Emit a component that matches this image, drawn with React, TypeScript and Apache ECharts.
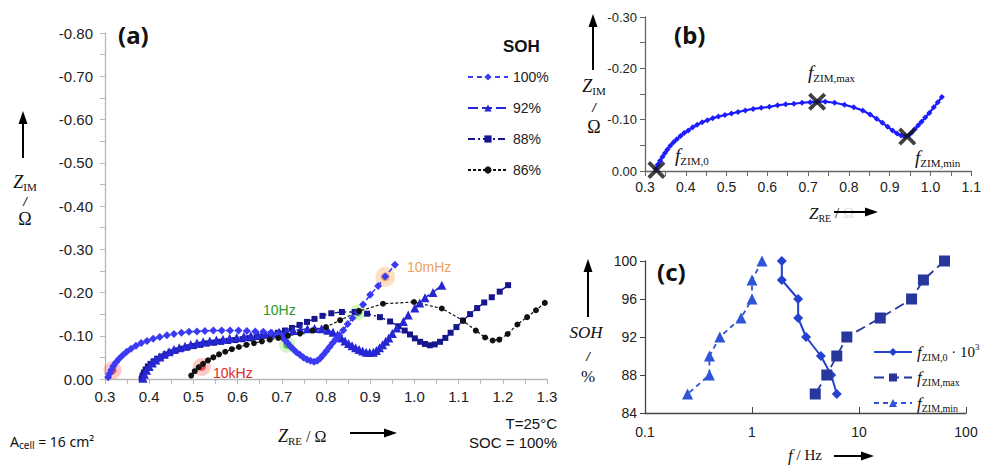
import React, { useEffect, useRef } from "react";
import * as echarts from "echarts";

// ---------- Panel (a): Nyquist plots, points are [Z_RE (Ω), -Z_IM (Ω)] ----------
const soh100 = [
  [0.307, 0.004], [0.31, 0.012], [0.314, 0.021], [0.319, 0.03], [0.325, 0.039], [0.332, 0.047],
  [0.34, 0.055], [0.349, 0.063], [0.359, 0.07], [0.37, 0.077], [0.382, 0.083], [0.395, 0.088],
  [0.409, 0.093], [0.424, 0.097], [0.44, 0.101], [0.456, 0.104], [0.473, 0.107], [0.49, 0.109],
  [0.508, 0.11], [0.526, 0.111], [0.545, 0.112], [0.564, 0.112], [0.583, 0.112], [0.602, 0.112],
  [0.621, 0.111], [0.64, 0.11], [0.658, 0.109], [0.675, 0.107], [0.69, 0.103], [0.7, 0.097],
  [0.707, 0.09], [0.713, 0.083], [0.719, 0.076], [0.726, 0.069], [0.733, 0.062], [0.741, 0.056],
  [0.749, 0.05], [0.757, 0.045], [0.765, 0.042], [0.773, 0.04], [0.78, 0.042], [0.787, 0.048],
  [0.794, 0.056], [0.801, 0.065], [0.808, 0.074], [0.815, 0.083], [0.822, 0.092], [0.83, 0.101],
  [0.839, 0.113], [0.849, 0.127], [0.86, 0.141], [0.872, 0.155], [0.884, 0.172], [0.9, 0.195],
  [0.918, 0.215], [0.934, 0.237], [0.956, 0.264],
];
const soh92 = [
  [0.386, 0.002], [0.389, 0.011], [0.394, 0.02], [0.4, 0.029], [0.407, 0.037], [0.415, 0.044],
  [0.424, 0.051], [0.434, 0.057], [0.445, 0.063], [0.456, 0.068], [0.468, 0.072], [0.481, 0.076],
  [0.494, 0.08], [0.508, 0.083], [0.522, 0.086], [0.537, 0.088], [0.552, 0.09], [0.567, 0.092],
  [0.582, 0.094], [0.598, 0.096], [0.614, 0.098], [0.63, 0.1], [0.646, 0.102], [0.662, 0.104],
  [0.678, 0.106], [0.694, 0.108], [0.71, 0.11], [0.726, 0.112], [0.742, 0.114], [0.758, 0.116],
  [0.774, 0.117], [0.79, 0.116], [0.804, 0.113], [0.816, 0.108], [0.826, 0.102], [0.835, 0.095],
  [0.843, 0.088], [0.851, 0.082], [0.859, 0.077], [0.867, 0.072], [0.875, 0.068], [0.883, 0.065],
  [0.891, 0.062], [0.899, 0.061], [0.907, 0.062], [0.914, 0.066], [0.921, 0.072], [0.928, 0.079],
  [0.935, 0.087], [0.942, 0.095], [0.95, 0.105], [0.96, 0.118], [0.975, 0.133], [0.986, 0.148],
  [1.001, 0.164], [1.012, 0.176], [1.024, 0.188], [1.042, 0.2], [1.062, 0.217],
];
const soh88 = [
  [0.383, 0.001], [0.385, 0.008], [0.388, 0.015], [0.392, 0.022], [0.397, 0.029], [0.403, 0.035],
  [0.41, 0.041], [0.418, 0.047], [0.427, 0.052], [0.437, 0.057], [0.448, 0.062], [0.46, 0.066],
  [0.473, 0.07], [0.487, 0.073], [0.501, 0.076], [0.516, 0.079], [0.531, 0.082], [0.547, 0.084],
  [0.563, 0.086], [0.579, 0.088], [0.595, 0.09], [0.611, 0.092], [0.627, 0.094], [0.643, 0.097],
  [0.659, 0.1], [0.675, 0.103], [0.691, 0.107], [0.707, 0.112], [0.723, 0.118], [0.74, 0.125],
  [0.757, 0.132], [0.774, 0.139], [0.792, 0.146], [0.812, 0.152], [0.836, 0.155], [0.865, 0.155],
  [0.893, 0.151], [0.922, 0.143], [0.945, 0.133], [0.964, 0.122], [0.978, 0.112], [0.99, 0.103],
  [1.001, 0.094], [1.013, 0.086], [1.024, 0.081], [1.035, 0.078], [1.046, 0.08], [1.058, 0.086],
  [1.07, 0.095], [1.082, 0.107], [1.095, 0.12], [1.11, 0.135], [1.126, 0.15], [1.142, 0.164],
  [1.158, 0.177], [1.175, 0.189], [1.193, 0.202], [1.212, 0.217],
];
const soh86 = [
  [0.495, 0.008], [0.503, 0.018], [0.512, 0.027], [0.522, 0.035], [0.533, 0.043], [0.545, 0.05],
  [0.558, 0.057], [0.572, 0.063], [0.587, 0.069], [0.603, 0.074], [0.62, 0.079], [0.637, 0.083],
  [0.655, 0.087], [0.673, 0.091], [0.692, 0.095], [0.714, 0.1], [0.741, 0.105], [0.77, 0.112],
  [0.8, 0.12], [0.832, 0.136], [0.875, 0.157], [0.929, 0.174], [0.999, 0.178], [1.062, 0.163],
  [1.11, 0.135], [1.139, 0.112], [1.16, 0.096], [1.177, 0.089], [1.192, 0.091], [1.211, 0.104],
  [1.233, 0.126], [1.255, 0.143], [1.275, 0.159], [1.295, 0.176],
];
const sohNames = ["100%", "92%", "88%", "86%"];
// frequency highlights in panel (a)
const mark10kHz = [[0.317, 0.02], [0.519, 0.028]];
const mark10Hz = [[0.712, 0.079], [0.872, 0.154]];
const mark10mHz = [[0.934, 0.236]];

// ---------- Panel (b): single Nyquist curve, [Z_RE, -Z_IM] ----------
const curveB = [
  [0.327, 0.004], [0.331, 0.012], [0.337, 0.02], [0.343, 0.028], [0.349, 0.035], [0.355, 0.042],
  [0.362, 0.049], [0.37, 0.056], [0.378, 0.062], [0.387, 0.068], [0.396, 0.074], [0.406, 0.079],
  [0.417, 0.085], [0.428, 0.09], [0.44, 0.095], [0.453, 0.099], [0.466, 0.103], [0.48, 0.106],
  [0.496, 0.109], [0.512, 0.112], [0.528, 0.115], [0.546, 0.118], [0.565, 0.121], [0.585, 0.123],
  [0.605, 0.125], [0.625, 0.128], [0.645, 0.13], [0.665, 0.131], [0.685, 0.133], [0.705, 0.134],
  [0.722, 0.135], [0.742, 0.135], [0.765, 0.133], [0.789, 0.129], [0.812, 0.124], [0.834, 0.118],
  [0.852, 0.11], [0.868, 0.102], [0.882, 0.094], [0.895, 0.086], [0.907, 0.079], [0.918, 0.073],
  [0.928, 0.069], [0.937, 0.067], [0.946, 0.069], [0.954, 0.075], [0.962, 0.082], [0.97, 0.089],
  [0.978, 0.096], [0.987, 0.104], [0.997, 0.113], [1.008, 0.124], [1.018, 0.134], [1.028, 0.144],
];
const markersB = [[0.328, 0.002], [0.722, 0.135], [0.943, 0.067]];

// ---------- Panel (c): characteristic frequencies vs SOH ----------
const sohLevels = [100, 98, 96, 94, 92, 90, 88, 86];
const fZim0x1000 = [1.9, 1.9, 2.7, 2.7, 3.2, 4.4, 5.5, 6.2];
const fZimMax = [63, 40, 31, 15.8, 7.7, 6.2, 5.0, 3.9];
const fZimMin = [1.24, 1.0, 1.0, 0.79, 0.5, 0.4, 0.4, 0.25];

const SERIF = "'Liberation Serif', 'DejaVu Serif', serif";
const SANS = "'Liberation Sans', Arial, sans-serif";
const NOTO = "'Noto Sans', 'Open Sans', sans-serif";

const neg = (pts: number[][]) => pts.map(([x, y]) => [x, -y]);

const richSub = (main: number, sub: number, col = "#111") => ({
  m: { fontFamily: SERIF, fontStyle: "italic", fontSize: main, lineHeight: main + 3, fill: col, color: col },
  s: { fontFamily: SERIF, fontSize: sub, verticalAlign: "bottom", lineHeight: sub + 1, fill: col, color: col },
  n: { fontFamily: SERIF, fontSize: main - 2, fill: col, color: col },
  g: { fontFamily: SERIF, fontSize: main - 2, fill: "#dcdcdc", color: "#dcdcdc" },
  p: { fontFamily: SERIF, fontSize: sub - 1, verticalAlign: "top", lineHeight: sub, fill: col, color: col },
});

const txt = (x: number, y: number, text: string, extra: any = {}) => ({
  type: "text",
  x,
  y,
  silent: true,
  style: {
    text,
    fill: "#111",
    fontFamily: SANS,
    fontSize: 14,
    align: "left",
    verticalAlign: "middle",
    ...extra,
  },
});

const arrowUp = (x: number, yBottom: number, yTop: number) => [
  { type: "line", silent: true, shape: { x1: x, y1: yBottom, x2: x, y2: yTop + 10 }, style: { stroke: "#000", lineWidth: 2 } },
  { type: "polygon", silent: true, shape: { points: [[x - 4.5, yTop + 13], [x + 4.5, yTop + 13], [x, yTop]] }, style: { fill: "#000" } },
];
const arrowRight = (xLeft: number, xRight: number, y: number) => [
  { type: "line", silent: true, shape: { x1: xLeft, y1: y, x2: xRight - 10, y2: y }, style: { stroke: "#000", lineWidth: 2 } },
  { type: "polygon", silent: true, shape: { points: [[xRight - 13, y - 4.5], [xRight - 13, y + 4.5], [xRight, y]] }, style: { fill: "#000" } },
];

const axisCommon = (color: string, fontSize: number, margin: number) => ({
  axisLine: { show: true, onZero: false, lineStyle: { color, width: 1.3 } },
  axisTick: { show: true, length: 5, lineStyle: { color } },
  splitLine: { show: false },
  axisLabel: { fontSize, color: "#222", margin, fontFamily: SANS },
});

const zeroFix = (v: number, d: number) => (Math.abs(v) < 1e-9 ? (0).toFixed(d) : v.toFixed(d));

const C100 = "#3a3af2";
const C92 = "#2626d2";
const C88 = "#16168e";

const option: any = {
  animation: false,
  backgroundColor: "#ffffff",
  textStyle: { fontFamily: SANS },
  grid: [
    { left: 105, top: 33, width: 442, height: 346 },
    { left: 645, top: 17, width: 332, height: 154 },
    { left: 645, top: 261, width: 321, height: 152 },
  ],
  xAxis: [
    {
      gridIndex: 0, type: "value", min: 0.3, max: 1.3, interval: 0.1,
      ...axisCommon("#b8b8b8", 14, 10),
      minorTick: { show: true, splitNumber: 2, length: 5, lineStyle: { color: "#b8b8b8" } },
      axisLabel: { fontSize: 15, color: "#222", margin: 10, fontFamily: SANS, formatter: (v: number) => zeroFix(v, 1) },
    },
    {
      gridIndex: 1, type: "value", min: 0.3, max: 1.1, interval: 0.1,
      ...axisCommon("#666", 13, 9),
      minorTick: { show: true, splitNumber: 2, length: 5, lineStyle: { color: "#666" } },
      axisLabel: { fontSize: 14, color: "#222", margin: 9, fontFamily: SANS, formatter: (v: number) => zeroFix(v, 1) },
    },
    {
      gridIndex: 2, type: "log", logBase: 10, min: 0.1, max: 100,
      ...axisCommon("#444", 14, 12),
      axisTick: { show: true, inside: true, length: 6, lineStyle: { color: "#444" } },
      axisLabel: { fontSize: 14, color: "#222", margin: 12, fontFamily: SANS, formatter: (v: number) => (v < 1 ? v.toFixed(1) : String(Math.round(v))) },
    },
  ],
  yAxis: [
    {
      gridIndex: 0, type: "value", min: -0.8, max: 0, interval: 0.1, inverse: true,
      ...axisCommon("#b8b8b8", 15, 12),
      minorTick: { show: true, splitNumber: 2, length: 5, lineStyle: { color: "#b8b8b8" } },
      axisLabel: { fontSize: 15, color: "#222", margin: 12, fontFamily: SANS, formatter: (v: number) => zeroFix(v, 2) },
    },
    {
      gridIndex: 1, type: "value", min: -0.3, max: 0, interval: 0.1, inverse: true,
      ...axisCommon("#666", 13, 8),
      minorTick: { show: true, splitNumber: 2, length: 5, lineStyle: { color: "#666" } },
      axisLabel: { fontSize: 13, color: "#222", margin: 8, fontFamily: SANS, formatter: (v: number) => zeroFix(v, 2) },
    },
    {
      gridIndex: 2, type: "value", min: 84, max: 100, interval: 4,
      ...axisCommon("#444", 14, 8),
    },
  ],
  legend: [
    {
      data: sohNames, orient: "vertical", left: 462, top: 65, itemWidth: 40, itemHeight: 9, itemGap: 17,
      selectedMode: false, textStyle: { fontSize: 14, color: "#222", fontFamily: SANS },
    },
    {
      data: ["fZIM0", "fZIMmax", "fZIMmin"], orient: "vertical", left: 868, top: 337, itemWidth: 38, itemHeight: 10, itemGap: 7,
      selectedMode: false,
      formatter: (name: string) =>
        ({ fZIM0: "{m|f}{s|ZIM,0}{n| · 10}{p|3}", fZIMmax: "{m|f}{s|ZIM,max}", fZIMmin: "{m|f}{s|ZIM,min}" } as any)[name],
      textStyle: { rich: richSub(17, 10) },
    },
  ],
  series: [
    {
      name: "88%", type: "line", xAxisIndex: 0, yAxisIndex: 0, data: neg(soh88), silent: true,
      symbol: "rect", symbolSize: 6, itemStyle: { color: C88 },
      lineStyle: { color: C88, width: 1.4, type: [7, 3, 2, 3] },
    },
    {
      name: "92%", type: "line", xAxisIndex: 0, yAxisIndex: 0, data: neg(soh92), silent: true,
      symbol: "triangle", symbolSize: 9, itemStyle: { color: C92 },
      lineStyle: { color: C92, width: 1.6, type: [10, 4] },
    },
    {
      name: "100%", type: "line", xAxisIndex: 0, yAxisIndex: 0, data: neg(soh100), silent: true,
      symbol: "diamond", symbolSize: 8, itemStyle: { color: C100 },
      lineStyle: { color: C100, width: 1.5, type: [5, 4] },
    },
    {
      name: "86%", type: "line", xAxisIndex: 0, yAxisIndex: 0, data: neg(soh86), silent: true,
      symbol: "circle", symbolSize: 6, itemStyle: { color: "#111" },
      lineStyle: { color: "#111", width: 1.2, type: [3, 2] },
    },
    // glows
    { type: "scatter", xAxisIndex: 0, yAxisIndex: 0, data: neg(mark10kHz), silent: true, symbolSize: 18, itemStyle: { color: "rgba(255,60,60,0.35)" } },
    { type: "scatter", xAxisIndex: 0, yAxisIndex: 0, data: neg(mark10kHz), silent: true, symbolSize: 8, itemStyle: { color: "#ff2020" } },
    { type: "scatter", xAxisIndex: 0, yAxisIndex: 0, data: neg(mark10Hz), silent: true, symbolSize: 16, itemStyle: { color: "rgba(140,230,80,0.45)" } },
    { type: "scatter", xAxisIndex: 0, yAxisIndex: 0, data: neg(mark10Hz), silent: true, symbolSize: 8, itemStyle: { color: "#30b030" } },
    { type: "scatter", xAxisIndex: 0, yAxisIndex: 0, data: neg(mark10mHz), silent: true, symbolSize: 20, itemStyle: { color: "rgba(250,170,90,0.45)" } },
    { type: "scatter", xAxisIndex: 0, yAxisIndex: 0, data: neg(mark10mHz), silent: true, symbolSize: 9, itemStyle: { color: "#f5a060" } },
    // panel (b)
    {
      type: "line", xAxisIndex: 1, yAxisIndex: 1, data: neg(curveB), silent: true,
      symbol: "diamond", symbolSize: 6, itemStyle: { color: "#1c1cff" },
      lineStyle: { color: "#1c1cff", width: 2.2 },
    },
    {
      type: "scatter", xAxisIndex: 1, yAxisIndex: 1, data: neg(markersB), silent: true, z: 5,
      symbol: "path://M3,0 L10,7 L17,0 L20,3 L13,10 L20,17 L17,20 L10,13 L3,20 L0,17 L7,10 L0,3 Z",
      symbolSize: 18, itemStyle: { color: "#111" },
    },
    // panel (c)
    {
      name: "fZIM0", type: "line", xAxisIndex: 2, yAxisIndex: 2, silent: true,
      data: fZim0x1000.map((f, i) => [f, sohLevels[i]]),
      symbol: "diamond", symbolSize: 10, itemStyle: { color: "#2541d0" },
      lineStyle: { color: "#2541d0", width: 2 },
    },
    {
      name: "fZIMmax", type: "line", xAxisIndex: 2, yAxisIndex: 2, silent: true,
      data: fZimMax.map((f, i) => [f, sohLevels[i]]),
      symbol: "rect", symbolSize: 11, itemStyle: { color: "#27379c" },
      lineStyle: { color: "#27379c", width: 1.8, type: [10, 5] },
    },
    {
      name: "fZIMmin", type: "line", xAxisIndex: 2, yAxisIndex: 2, silent: true,
      data: fZimMin.map((f, i) => [f, sohLevels[i]]),
      symbol: "triangle", symbolSize: 11, itemStyle: { color: "#2f54d6" },
      lineStyle: { color: "#2f54d6", width: 1.8, type: [5, 4] },
    },
  ],
  graphic: [
    // panel (a)
    txt(118, 34, "(a)", { fontFamily: NOTO, fontWeight: "bold", fontSize: 24 }),
    txt(503, 46, "SOH", { fontWeight: "bold", fontSize: 17 }),
    ...arrowUp(23, 158, 111),
    txt(25, 182, "{m|Z}{s|IM}", { align: "center", rich: richSub(18, 11) }),
    txt(25, 201, "/", { align: "center", fontFamily: SANS, fontStyle: "italic", fontSize: 13 }),
    txt(25, 219, "Ω", { align: "center", fontFamily: SERIF, fontSize: 18 }),
    txt(278, 436, "{m|Z}{s|RE}{n| / Ω}", { rich: richSub(18, 11) }),
    ...arrowRight(350, 397, 433),
    txt(10, 441, "{a|A}{s|cell}{a| = 16 cm²}", {
      rich: {
        a: { fontFamily: NOTO, fontSize: 14, lineHeight: 18, fill: "#111" },
        s: { fontFamily: NOTO, fontSize: 10, verticalAlign: "bottom", lineHeight: 11, fill: "#111" },
      },
    }),
    txt(557, 423, "T=25°C", { align: "right", fontSize: 15 }),
    txt(557, 442, "SOC = 100%", { align: "right", fontSize: 15 }),
    txt(263, 310, "10Hz", { fill: "#2a9a2a", fontSize: 14 }),
    txt(213, 373, "10kHz", { fill: "#e02828", fontSize: 14 }),
    txt(407, 267, "10mHz", { fill: "#f0a060", fontSize: 14 }),
    // panel (b)
    txt(674, 34, "(b)", { fontFamily: NOTO, fontWeight: "bold", fontSize: 24 }),
    ...arrowUp(593, 70, 14),
    txt(594, 86, "{m|Z}{s|IM}", { align: "center", rich: richSub(18, 11) }),
    txt(594, 107, "/", { align: "center", fontFamily: SANS, fontStyle: "italic", fontSize: 13 }),
    txt(594, 127, "Ω", { align: "center", fontFamily: SERIF, fontSize: 18 }),
    txt(809, 213, "{m|Z}{s|RE}{n| /}{g| Ω}", { rich: richSub(17, 10) }),
    ...arrowRight(834, 878, 212),
    txt(675, 155, "{m|f}{s|ZIM,0}", { rich: richSub(19, 11) }),
    txt(808, 72, "{m|f}{s|ZIM,max}", { rich: richSub(19, 11) }),
    txt(915, 157, "{m|f}{s|ZIM,min}", { rich: richSub(19, 11) }),
    // panel (c)
    txt(657, 271, "(c)", { fontFamily: NOTO, fontWeight: "bold", fontSize: 24 }),
    ...arrowUp(588, 317, 259),
    txt(586, 332, "SOH", { align: "center", fontFamily: SERIF, fontStyle: "italic", fontSize: 17 }),
    txt(588, 356, "/", { align: "center", fontFamily: SANS, fontStyle: "italic", fontSize: 13 }),
    txt(588, 376, "%", { align: "center", fontFamily: SERIF, fontSize: 17 }),
    txt(788, 455, "{m|f}{n| / Hz}", { rich: richSub(17, 10) }),
    ...arrowRight(834, 874, 456),
  ],
};

export default function App() {
  const ref = useRef<HTMLDivElement>(null);
  useEffect(() => {
    const chart = echarts.init(ref.current as HTMLDivElement, null, { renderer: "svg" });
    chart.setOption(option);
    return () => chart.dispose();
  }, []);
  return (
    <div
      ref={ref}
      style={{ position: "absolute", left: 0, top: 0, width: 984, height: 465, background: "#fff" }}
    />
  );
}
